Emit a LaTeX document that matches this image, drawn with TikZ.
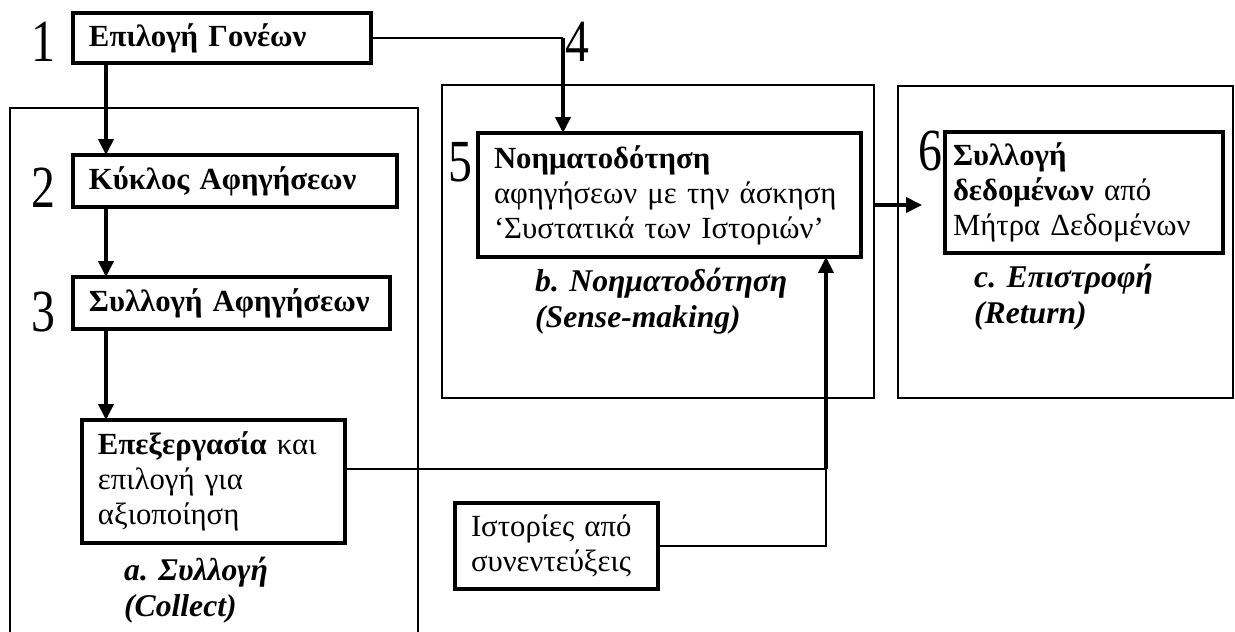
\documentclass[tikz,border=0pt]{standalone}
\usepackage{fontspec}
\setmainfont{Liberation Serif}
\usepackage{graphicx}
\usetikzlibrary{arrows.meta}

\newcommand{\stepnum}[1]{\scalebox{0.8}[1]{\fontsize{34}{34}\selectfont #1}}

\begin{document}
\begin{tikzpicture}[x=0.02cm, y=-0.02cm,
  box/.style={draw, line width=2.2pt, rectangle, anchor=north west, inner xsep=0.32cm, inner ysep=0pt, outer sep=0pt, align=left, font=\fontsize{17.5}{20}\selectfont},
  frame/.style={draw, line width=1.1pt, rectangle, anchor=north west, inner sep=0pt, outer sep=0pt},
  link/.style={line width=1.3pt},
  arrow/.style={line width=1.9pt, -{Triangle[length=9pt,width=8.5pt]}},
  stage/.style={anchor=west, align=left, font=\fontsize{18}{20.5}\selectfont\bfseries\itshape},
  num/.style={inner sep=0pt}]
\useasboundingbox (0,0) rectangle (1235,632);

% Phase frames
\draw[line width=1.1pt] (10,632) |- (418,108) -- (418,632);
\node[frame, minimum width=8.64cm, minimum height=6.26cm] (boxb) at (442,85) {};
\node[frame, minimum width=6.70cm, minimum height=6.24cm] (boxc) at (898,86) {};

% Steps
\node[box, text width=5.32cm, minimum height=1.0cm] (parents) at (73,13) {\textbf{Επιλογή Γονέων}};
\node[box, text width=5.84cm, minimum height=1.04cm] (circle) at (73,155) {\textbf{Κύκλος Αφηγήσεων}};
\node[box, text width=5.70cm, minimum height=1.04cm] (collect) at (73,277) {\textbf{Συλλογή Αφηγήσεων}};
\node[box, text width=4.62cm, minimum height=2.46cm] (process) at (82,420) {\textbf{Επεξεργασία} και\\επιλογή για\\αξιοποίηση};
\node[box, text width=7.02cm, minimum height=2.48cm] (sense) at (478,133) {\textbf{Νοηματοδότηση}\\αφηγήσεων με την άσκηση\\‘Συστατικά των Ιστοριών’};
\node[box, inner xsep=0.16cm, text width=5.24cm, minimum height=2.42cm] (data) at (945,132) {\textbf{Συλλογή}\\\textbf{δεδομένων} από\\Μήτρα Δεδομένων};
\node[box, text width=3.42cm, minimum height=1.72cm] (stories) at (455,503) {Ιστορίες από\\συνεντεύξεις};

% Step numbers
\node[num] (n1) at (43,42) {\stepnum{1}};
\node[num] (n2) at (43,188) {\stepnum{2}};
\node[num] (n3) at (43,312) {\stepnum{3}};
\node[num] (n4) at (577,42) {\stepnum{4}};
\node[num] (n5) at (460,162) {\stepnum{5}};
\node[num] (n6) at (930,151) {\stepnum{6}};

% Phase labels
\node[stage] (laba) at (118,590) {a. Συλλογή\\(Collect)};
\node[stage] (labb) at (529,301) {b. Νοηματοδότηση\\(Sense-making)};
\node[stage] (labc) at (968,297) {c. Επιστροφή\\(Return)};

% Arrows
\coordinate (colx) at (106,0);
\coordinate (col4) at (563,0);
\coordinate (join) at (826,469);
\coordinate (ret) at (922,205);
\draw[arrow] (parents.south -| colx) -- (circle.north -| colx);
\draw[arrow] (circle.south -| colx) -- (collect.north -| colx);
\draw[arrow] (collect.south -| colx) -- (process.north -| colx);
\draw[link] (parents.east) -- (parents.east -| col4);
\draw[arrow] (parents.east -| col4) -- (sense.north -| col4);
\draw[link] (process.east |- join) -- (join);
\draw[link] (stories.east) -| (join);
\draw[arrow] (join) -- (sense.south -| join);
\draw[arrow] (boxb.east |- ret) -- (ret);
\end{tikzpicture}
\end{document}
